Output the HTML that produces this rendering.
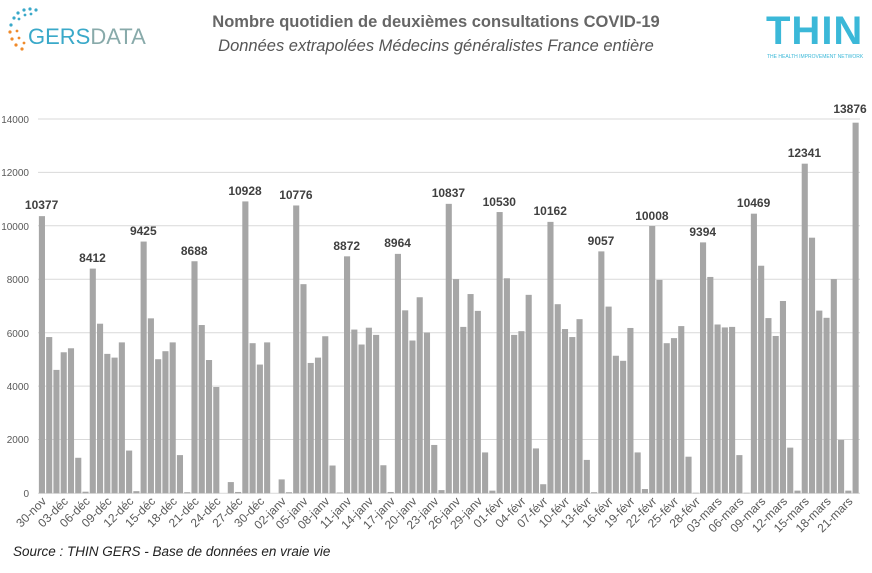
<!DOCTYPE html>
<html><head><meta charset="utf-8"><style>
html,body{margin:0;padding:0;background:#fff;}
body{width:872px;height:568px;overflow:hidden;font-family:"Liberation Sans",sans-serif;}
</style></head><body>
<svg width="872" height="568" viewBox="0 0 872 568" xmlns="http://www.w3.org/2000/svg" font-family="Liberation Sans, sans-serif">
<!-- GERSDATA logo -->
<g fill="#3aa9c9">
<circle cx="14" cy="18" r="1.6"/><circle cx="18" cy="13" r="1.6"/><circle cx="24" cy="10" r="1.6"/><circle cx="30" cy="9" r="1.6"/><circle cx="36" cy="10" r="1.6"/>
<circle cx="11" cy="25" r="1.6"/><circle cx="19" cy="19" r="1.4"/><circle cx="25" cy="15" r="1.4"/><circle cx="31" cy="14" r="1.4"/>
</g>
<g fill="#f08a2a">
<circle cx="10" cy="32" r="1.6"/><circle cx="12" cy="39" r="1.6"/><circle cx="16" cy="45" r="1.6"/><circle cx="22" cy="49" r="1.6"/><circle cx="17" cy="31" r="1.4"/><circle cx="19" cy="38" r="1.4"/><circle cx="24" cy="43" r="1.4"/>
</g>
<text x="28" y="44" font-size="22" fill="#3aa9c9">GERS<tspan fill="#8aa">DATA</tspan></text>
<!-- THIN logo -->
<text x="766" y="44" font-size="40" fill="#3bb8d8" font-weight="bold" letter-spacing="1">THIN</text>
<text x="767" y="58" font-size="5" fill="#3bb8d8">THE HEALTH IMPROVEMENT NETWORK</text>
<!-- titles -->
<text x="436" y="27" font-size="16.5" font-weight="bold" fill="#666" text-anchor="middle">Nombre quotidien de deuxièmes consultations COVID-19</text>
<text x="436" y="51" font-size="16.5" font-style="italic" fill="#555" text-anchor="middle">Données extrapolées Médecins généralistes France entière</text>
<!-- grid -->
<g stroke="#d9d9d9" stroke-width="1">
<line x1="38" x2="860" y1="119" y2="119"/><line x1="38" x2="860" y1="172.4" y2="172.4"/><line x1="38" x2="860" y1="225.8" y2="225.8"/><line x1="38" x2="860" y1="279.3" y2="279.3"/><line x1="38" x2="860" y1="332.7" y2="332.7"/><line x1="38" x2="860" y1="386.1" y2="386.1"/><line x1="38" x2="860" y1="439.5" y2="439.5"/><line x1="38" x2="860" y1="493.3" y2="493.3"/>
</g>
<g font-size="10" fill="#595959" text-anchor="end">
<text x="29" y="123">14000</text><text x="29" y="176">12000</text><text x="29" y="230">10000</text><text x="29" y="283">8000</text><text x="29" y="337">6000</text><text x="29" y="390">4000</text><text x="29" y="443">2000</text><text x="29" y="497">0</text>
</g>
<!-- bars -->
<g transform="translate(38.3,493.3) scale(7.265,-0.02671)" fill="#a6a6a6">
<rect x="0.08" width="0.84" height="10377"/><rect x="1.08" width="0.84" height="5850"/><rect x="2.08" width="0.84" height="4620"/><rect x="3.08" width="0.84" height="5280"/><rect x="4.08" width="0.84" height="5430"/><rect x="5.08" width="0.84" height="1330"/><rect x="6.08" width="0.84" height="60"/>
<rect x="7.08" width="0.84" height="8412"/><rect x="8.08" width="0.84" height="6350"/><rect x="9.08" width="0.84" height="5220"/><rect x="10.08" width="0.84" height="5080"/><rect x="11.08" width="0.84" height="5650"/><rect x="12.08" width="0.84" height="1600"/><rect x="13.08" width="0.84" height="80"/>
<rect x="14.08" width="0.84" height="9425"/><rect x="15.08" width="0.84" height="6550"/><rect x="16.08" width="0.84" height="5020"/><rect x="17.08" width="0.84" height="5320"/><rect x="18.08" width="0.84" height="5650"/><rect x="19.08" width="0.84" height="1430"/><rect x="20.08" width="0.84" height="40"/>
<rect x="21.08" width="0.84" height="8688"/><rect x="22.08" width="0.84" height="6300"/><rect x="23.08" width="0.84" height="4990"/><rect x="24.08" width="0.84" height="3980"/><rect x="25.08" width="0.84" height="0"/><rect x="26.08" width="0.84" height="420"/><rect x="27.08" width="0.84" height="50"/>
<rect x="28.08" width="0.84" height="10928"/><rect x="29.08" width="0.84" height="5620"/><rect x="30.08" width="0.84" height="4820"/><rect x="31.08" width="0.84" height="5650"/><rect x="32.08" width="0.84" height="0"/><rect x="33.08" width="0.84" height="520"/><rect x="34.08" width="0.84" height="40"/>
<rect x="35.08" width="0.84" height="10776"/><rect x="36.08" width="0.84" height="7830"/><rect x="37.08" width="0.84" height="4880"/><rect x="38.08" width="0.84" height="5080"/><rect x="39.08" width="0.84" height="5880"/><rect x="40.08" width="0.84" height="1040"/><rect x="41.08" width="0.84" height="30"/>
<rect x="42.08" width="0.84" height="8872"/><rect x="43.08" width="0.84" height="6130"/><rect x="44.08" width="0.84" height="5570"/><rect x="45.08" width="0.84" height="6200"/><rect x="46.08" width="0.84" height="5930"/><rect x="47.08" width="0.84" height="1050"/><rect x="48.08" width="0.84" height="50"/>
<rect x="49.08" width="0.84" height="8964"/><rect x="50.08" width="0.84" height="6850"/><rect x="51.08" width="0.84" height="5720"/><rect x="52.08" width="0.84" height="7340"/><rect x="53.08" width="0.84" height="6020"/><rect x="54.08" width="0.84" height="1810"/><rect x="55.08" width="0.84" height="120"/>
<rect x="56.08" width="0.84" height="10837"/><rect x="57.08" width="0.84" height="8020"/><rect x="58.08" width="0.84" height="6230"/><rect x="59.08" width="0.84" height="7460"/><rect x="60.08" width="0.84" height="6830"/><rect x="61.08" width="0.84" height="1530"/><rect x="62.08" width="0.84" height="100"/>
<rect x="63.08" width="0.84" height="10530"/><rect x="64.08" width="0.84" height="8050"/><rect x="65.08" width="0.84" height="5930"/><rect x="66.08" width="0.84" height="6070"/><rect x="67.08" width="0.84" height="7430"/><rect x="68.08" width="0.84" height="1680"/><rect x="69.08" width="0.84" height="340"/>
<rect x="70.08" width="0.84" height="10162"/><rect x="71.08" width="0.84" height="7080"/><rect x="72.08" width="0.84" height="6150"/><rect x="73.08" width="0.84" height="5850"/><rect x="74.08" width="0.84" height="6520"/><rect x="75.08" width="0.84" height="1250"/><rect x="76.08" width="0.84" height="40"/>
<rect x="77.08" width="0.84" height="9057"/><rect x="78.08" width="0.84" height="6990"/><rect x="79.08" width="0.84" height="5150"/><rect x="80.08" width="0.84" height="4960"/><rect x="81.08" width="0.84" height="6190"/><rect x="82.08" width="0.84" height="1530"/><rect x="83.08" width="0.84" height="160"/>
<rect x="84.08" width="0.84" height="10008"/><rect x="85.08" width="0.84" height="7990"/><rect x="86.08" width="0.84" height="5620"/><rect x="87.08" width="0.84" height="5810"/><rect x="88.08" width="0.84" height="6260"/><rect x="89.08" width="0.84" height="1370"/><rect x="90.08" width="0.84" height="20"/>
<rect x="91.08" width="0.84" height="9394"/><rect x="92.08" width="0.84" height="8100"/><rect x="93.08" width="0.84" height="6320"/><rect x="94.08" width="0.84" height="6210"/><rect x="95.08" width="0.84" height="6230"/><rect x="96.08" width="0.84" height="1430"/><rect x="97.08" width="0.84" height="20"/>
<rect x="98.08" width="0.84" height="10469"/><rect x="99.08" width="0.84" height="8520"/><rect x="100.08" width="0.84" height="6560"/><rect x="101.08" width="0.84" height="5890"/><rect x="102.08" width="0.84" height="7200"/><rect x="103.08" width="0.84" height="1710"/><rect x="104.08" width="0.84" height="100"/>
<rect x="105.08" width="0.84" height="12341"/><rect x="106.08" width="0.84" height="9570"/><rect x="107.08" width="0.84" height="6840"/><rect x="108.08" width="0.84" height="6570"/><rect x="109.08" width="0.84" height="8020"/><rect x="110.08" width="0.84" height="2000"/><rect x="111.08" width="0.84" height="100"/>
<rect x="112.08" width="0.84" height="13876"/>
</g>
<!-- data labels -->
<g font-size="12" font-weight="bold" fill="#404040" text-anchor="middle">
<text x="41.6" y="209">10377</text><text x="92.5" y="262">8412</text><text x="143.3" y="235">9425</text><text x="194.2" y="255">8688</text><text x="245" y="195">10928</text><text x="295.9" y="199">10776</text><text x="346.7" y="250">8872</text><text x="397.6" y="247">8964</text><text x="448.4" y="197">10837</text><text x="499.3" y="206">10530</text><text x="550.2" y="215">10162</text><text x="601" y="245">9057</text><text x="651.9" y="220">10008</text><text x="702.7" y="236">9394</text><text x="753.6" y="207">10469</text><text x="804.4" y="157">12341</text><text x="850" y="113">13876</text>
</g>
<!-- x labels -->
<g font-size="12" fill="#595959" text-anchor="end">
<text transform="translate(47,502) rotate(-45)">30-nov</text>
<text transform="translate(68.8,502) rotate(-45)">03-déc</text>
<text transform="translate(90.6,502) rotate(-45)">06-déc</text>
<text transform="translate(112.4,502) rotate(-45)">09-déc</text>
<text transform="translate(134.2,502) rotate(-45)">12-déc</text>
<text transform="translate(156,502) rotate(-45)">15-déc</text>
<text transform="translate(177.8,502) rotate(-45)">18-déc</text>
<text transform="translate(199.6,502) rotate(-45)">21-déc</text>
<text transform="translate(221.4,502) rotate(-45)">24-déc</text>
<text transform="translate(243.2,502) rotate(-45)">27-déc</text>
<text transform="translate(265,502) rotate(-45)">30-déc</text>
<text transform="translate(286.8,502) rotate(-45)">02-janv</text>
<text transform="translate(308.5,502) rotate(-45)">05-janv</text>
<text transform="translate(330.3,502) rotate(-45)">08-janv</text>
<text transform="translate(352.1,502) rotate(-45)">11-janv</text>
<text transform="translate(373.9,502) rotate(-45)">14-janv</text>
<text transform="translate(395.7,502) rotate(-45)">17-janv</text>
<text transform="translate(417.5,502) rotate(-45)">20-janv</text>
<text transform="translate(439.3,502) rotate(-45)">23-janv</text>
<text transform="translate(461.1,502) rotate(-45)">26-janv</text>
<text transform="translate(482.9,502) rotate(-45)">29-janv</text>
<text transform="translate(504.7,502) rotate(-45)">01-févr</text>
<text transform="translate(526.5,502) rotate(-45)">04-févr</text>
<text transform="translate(548.3,502) rotate(-45)">07-févr</text>
<text transform="translate(570.1,502) rotate(-45)">10-févr</text>
<text transform="translate(591.9,502) rotate(-45)">13-févr</text>
<text transform="translate(613.7,502) rotate(-45)">16-févr</text>
<text transform="translate(635.5,502) rotate(-45)">19-févr</text>
<text transform="translate(657.3,502) rotate(-45)">22-févr</text>
<text transform="translate(679.1,502) rotate(-45)">25-févr</text>
<text transform="translate(700.8,502) rotate(-45)">28-févr</text>
<text transform="translate(722.6,502) rotate(-45)">03-mars</text>
<text transform="translate(744.4,502) rotate(-45)">06-mars</text>
<text transform="translate(766.2,502) rotate(-45)">09-mars</text>
<text transform="translate(788,502) rotate(-45)">12-mars</text>
<text transform="translate(809.8,502) rotate(-45)">15-mars</text>
<text transform="translate(831.6,502) rotate(-45)">18-mars</text>
<text transform="translate(853.4,502) rotate(-45)">21-mars</text>
</g>
<text x="13" y="556" font-size="13.5" font-style="italic" fill="#222">Source : THIN GERS - Base de données en vraie vie</text>
</svg>
</body></html>
